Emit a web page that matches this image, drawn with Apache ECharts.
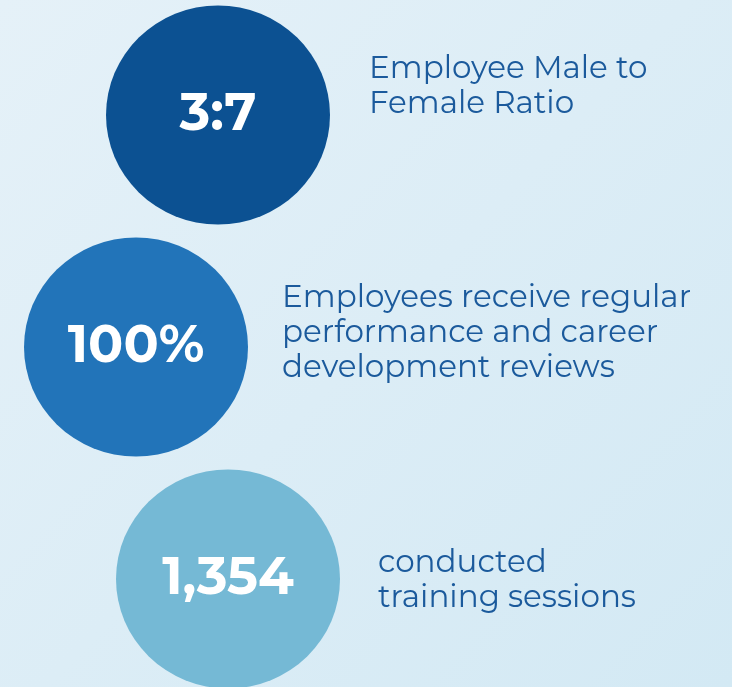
<!DOCTYPE html>
<html>
<head>
<meta charset="utf-8">
<script src="https://cdn.jsdelivr.net/npm/echarts@6/dist/echarts.min.js"></script>
<style>
  html, body { margin: 0; padding: 0; }
  #chart { width: 732px; height: 687px; }
</style>
</head>
<body>
<div id="chart"></div>
<script>
// figures shown in the circles, and what they stand for
const figures = ['3:7', '100%', '1,354'];
const captions = [
    'Employee Male to\nFemale Ratio',
    'Employees receive regular\nperformance and career\ndevelopment reviews',
    'conducted\ntraining sessions'
];

// layout: zigzag column for the circles and where each caption starts
const circleX = [218, 136, 228];
const circleY = [115, 347, 579];
const captionX = [369, 282, 378];
const captionY = [86, 333, 580];
const circleColors = ['#0c5192', '#2274b9', '#75b9d5'];

const chart = echarts.init(document.getElementById('chart'));
chart.setOption({
    backgroundColor: {
        type: 'linear', x: 0, y: 0, x2: 1, y2: 1,
        colorStops: [{offset: 0, color: '#e5f1f8'}, {offset: 1, color: '#d3e9f4'}]
    },
    animation: false,
    grid: {left: 0, right: 0, top: 0, bottom: 0},
    xAxis: {type: 'value', min: 0, max: 732, show: false},
    yAxis: {type: 'value', min: 0, max: 687, inverse: true, show: false},
    series: [
        {
            type: 'scatter',
            symbol: 'circle',
            symbolSize: [224, 219],
            silent: true,
            emphasis: {disabled: true},
            data: figures.map((f, i) => ({
                value: [circleX[i], circleY[i]],
                name: f,
                itemStyle: {color: circleColors[i], opacity: 1}
            })),
            label: {
                show: true,
                position: 'inside',
                formatter: p => p.name,
                color: '#ffffff',
                fontFamily: 'Montserrat, Inter, sans-serif',
                fontWeight: 700,
                fontSize: 52
            }
        },
        {
            type: 'scatter',
            symbolSize: 0,
            silent: true,
            emphasis: {disabled: true},
            itemStyle: {opacity: 1},
            data: captions.map((c, i) => ({value: [captionX[i], captionY[i]], name: c})),
            label: {
                show: true,
                position: 'right',
                distance: 0,
                align: 'left',
                verticalAlign: 'middle',
                formatter: p => p.name,
                color: '#1b5a9c',
                fontFamily: 'Montserrat, sans-serif',
                fontSize: 31,
                lineHeight: 35
            }
        }
    ]
});
</script>
</body>
</html>
